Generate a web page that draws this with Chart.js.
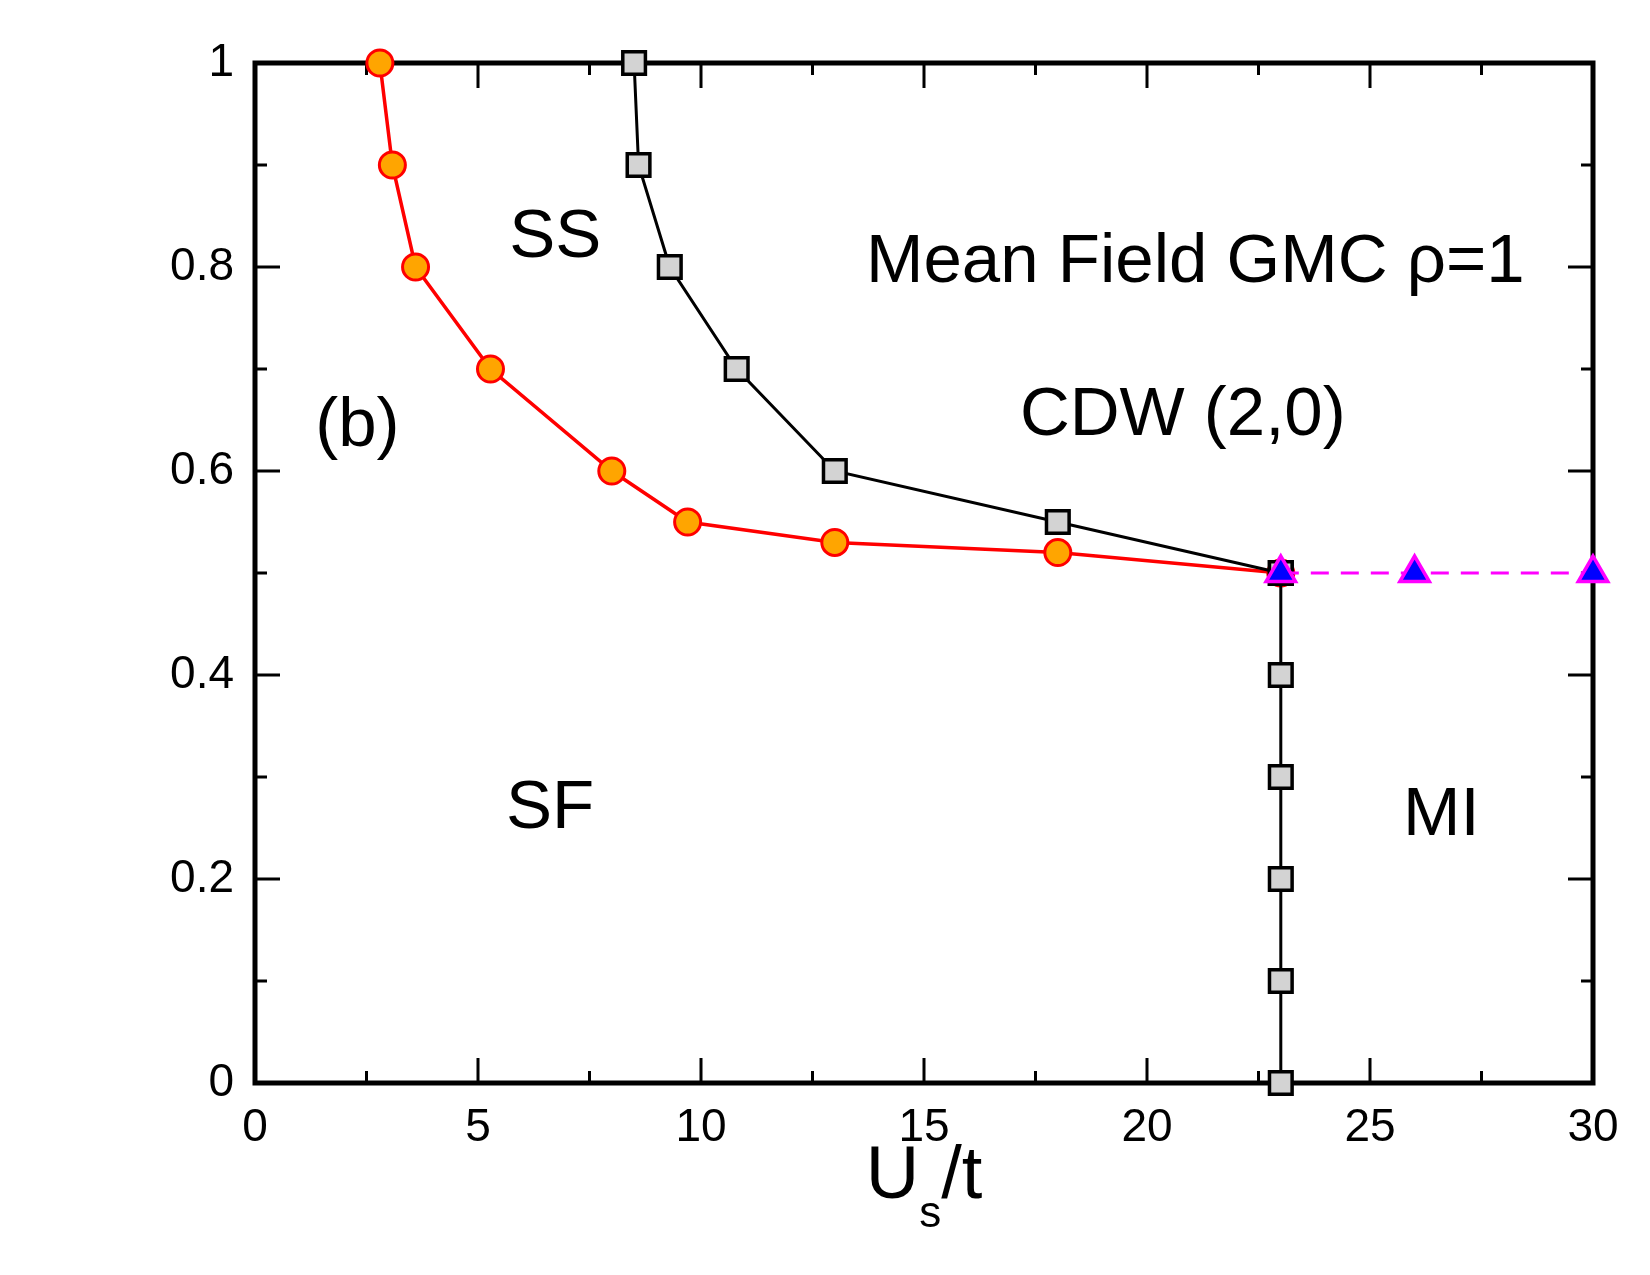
<!DOCTYPE html>
<html>
<head>
<meta charset="utf-8">
<script src="https://cdn.jsdelivr.net/npm/chart.js@4"></script>
<style>
    body { margin: 0; background: #ffffff; }
    #wrap { width: 1650px; height: 1275px; }
</style>
</head>
<body>
<div id="wrap"><canvas id="phaseDiagram" width="1650" height="1275"></canvas></div>
<script>
// red circles: SF -> SS boundary
var sfX = [2.8, 3.08, 3.6, 5.28, 8.0, 9.7, 13.0, 18.0, 23.0];
var sfY = [1.0, 0.9, 0.8, 0.7, 0.6, 0.55, 0.53, 0.52, 0.5];
// grey squares: SS -> CDW boundary
var cdwX = [8.5, 8.6, 9.3, 10.8, 13.0, 18.0, 23.0];
var cdwY = [1.0, 0.9, 0.8, 0.7, 0.6, 0.55, 0.5];
// grey squares: SF -> MI boundary
var miX = [23.0, 23.0, 23.0, 23.0, 23.0, 23.0];
var miY = [0.5, 0.4, 0.3, 0.2, 0.1, 0.0];
// triangles: CDW -> MI boundary
var triX = [23.0, 26.0, 30.0];
var triY = [0.5, 0.5, 0.5];

var xTicks = [0, 5, 10, 15, 20, 25, 30];
var xMinor = [2.5, 7.5, 12.5, 17.5, 22.5, 27.5];
var yTicks = [0, 0.2, 0.4, 0.6, 0.8, 1];
var yMinor = [0.1, 0.3, 0.5, 0.7, 0.9];

// text labels placed in data coordinates (left edge, baseline)
var labelTexts = ["(b)", "SS", "Mean Field GMC \u03c1=1", "CDW (2,0)", "SF", "MI"];
var labelX = [1.35, 5.7, 13.7, 17.15, 5.63, 25.74];
var labelY = [0.625, 0.81, 0.785, 0.635, 0.25, 0.243];

var fontFamily = "'Liberation Sans', Arial, Helvetica, sans-serif";

function to_points(xs, ys) {
    var pts = [];
    for (var i = 0; i < xs.length; i++) {
        pts.push({ x: xs[i], y: ys[i] });
    }
    return pts;
}

var frameAndText = {
    id: "frameAndText",
    beforeDatasetsDraw: function (chart) {
        var ctx = chart.ctx;
        var a = chart.chartArea;
        var xs = chart.scales.x;
        var ys = chart.scales.y;
        ctx.save();
        ctx.strokeStyle = "#000000";
        ctx.lineWidth = 3;
        ctx.beginPath();
        function xTick(v, len) {
            var px = xs.getPixelForValue(v);
            ctx.moveTo(px, a.bottom);
            ctx.lineTo(px, a.bottom - len);
            ctx.moveTo(px, a.top);
            ctx.lineTo(px, a.top + len);
        }
        function yTick(v, len) {
            var py = ys.getPixelForValue(v);
            ctx.moveTo(a.left, py);
            ctx.lineTo(a.left + len, py);
            ctx.moveTo(a.right, py);
            ctx.lineTo(a.right - len, py);
        }
        xTicks.forEach(function (v) { xTick(v, 25); });
        xMinor.forEach(function (v) { xTick(v, 12); });
        yTicks.forEach(function (v) { yTick(v, 25); });
        yMinor.forEach(function (v) { yTick(v, 12); });
        ctx.stroke();
        ctx.lineWidth = 5;
        ctx.strokeRect(a.left, a.top, a.right - a.left, a.bottom - a.top);
        ctx.restore();
    },
    afterDraw: function (chart) {
        var ctx = chart.ctx;
        var a = chart.chartArea;
        var xs = chart.scales.x;
        var ys = chart.scales.y;
        ctx.save();
        ctx.fillStyle = "#000000";
        ctx.textAlign = "left";
        ctx.textBaseline = "alphabetic";
        ctx.font = "69px " + fontFamily;
        for (var i = 0; i < labelTexts.length; i++) {
            ctx.fillText(labelTexts[i], xs.getPixelForValue(labelX[i]), ys.getPixelForValue(labelY[i]));
        }
        // x axis title U_s/t
        var big = "74px " + fontFamily;
        var small = "44px " + fontFamily;
        ctx.font = big;
        var wU = ctx.measureText("U").width;
        var wT = ctx.measureText("/t").width;
        ctx.font = small;
        var wS = ctx.measureText("s").width;
        var cx = (a.left + a.right) / 2;
        var left = cx - (wU + wS + wT) / 2;
        var base = 1198;
        ctx.font = big;
        ctx.fillText("U", left, base);
        ctx.font = small;
        ctx.fillText("s", left + wU, base + 29);
        ctx.font = big;
        ctx.fillText("/t", left + wU + wS, base);
        ctx.restore();
    },
};

function create_phase_diagram() {
    var config = {
        type: "line",
        data: {
            datasets: [
                {
                    label: "CDW-MI",
                    data: to_points(triX, triY),
                    borderColor: "#ff00ff",
                    borderWidth: 3,
                    borderDash: [18, 12],
                    pointStyle: "triangle",
                    pointRadius: 17,
                    pointBackgroundColor: "#0000ff",
                    pointBorderColor: "#ff00ff",
                    pointBorderWidth: 3.5,
                    clip: false,
                },
                {
                    label: "SF-MI",
                    data: to_points(miX, miY),
                    borderColor: "#000000",
                    borderWidth: 3,
                    pointStyle: "rect",
                    pointRadius: 16,
                    pointBackgroundColor: "#d3d3d3",
                    pointBorderColor: "#000000",
                    pointBorderWidth: 3.5,
                    clip: false,
                },
                {
                    label: "SS-CDW",
                    data: to_points(cdwX, cdwY),
                    borderColor: "#000000",
                    borderWidth: 3,
                    pointStyle: "rect",
                    pointRadius: 16,
                    pointBackgroundColor: "#d3d3d3",
                    pointBorderColor: "#000000",
                    pointBorderWidth: 3.5,
                    clip: false,
                },
                {
                    label: "SF-SS",
                    data: to_points(sfX, sfY),
                    borderColor: "#ff0000",
                    borderWidth: 3.5,
                    pointStyle: "circle",
                    pointRadius: 13,
                    pointBackgroundColor: "#ffa500",
                    pointBorderColor: "#ff0000",
                    pointBorderWidth: 3,
                    clip: false,
                },
            ],
        },
        options: {
            responsive: false,
            animation: false,
            layout: { padding: { top: 63, right: 57, left: 0, bottom: 0 } },
            plugins: {
                legend: { display: false },
                tooltip: { enabled: false },
            },
            scales: {
                x: {
                    type: "linear",
                    min: 0,
                    max: 30,
                    grid: { display: false, drawTicks: false },
                    border: { display: false },
                    afterBuildTicks: function (scale) {
                        scale.ticks = xTicks.map(function (v) { return { value: v }; });
                    },
                    afterFit: function (scale) {
                        scale.height = 192;
                    },
                    ticks: {
                        color: "#000000",
                        font: { size: 46, family: fontFamily },
                        padding: 18,
                        maxRotation: 0,
                        callback: function (value) { return String(value); },
                    },
                },
                y: {
                    type: "linear",
                    min: 0,
                    max: 1,
                    grid: { display: false, drawTicks: false },
                    border: { display: false },
                    afterBuildTicks: function (scale) {
                        scale.ticks = yTicks.map(function (v) { return { value: v }; });
                    },
                    afterFit: function (scale) {
                        scale.width = 255;
                    },
                    ticks: {
                        color: "#000000",
                        font: { size: 46, family: fontFamily },
                        padding: 21,
                        callback: function (value) { return String(value); },
                    },
                },
            },
        },
        plugins: [frameAndText],
    };
    return new Chart("phaseDiagram", config);
}

var phaseDiagram = create_phase_diagram();
</script>
</body>
</html>
